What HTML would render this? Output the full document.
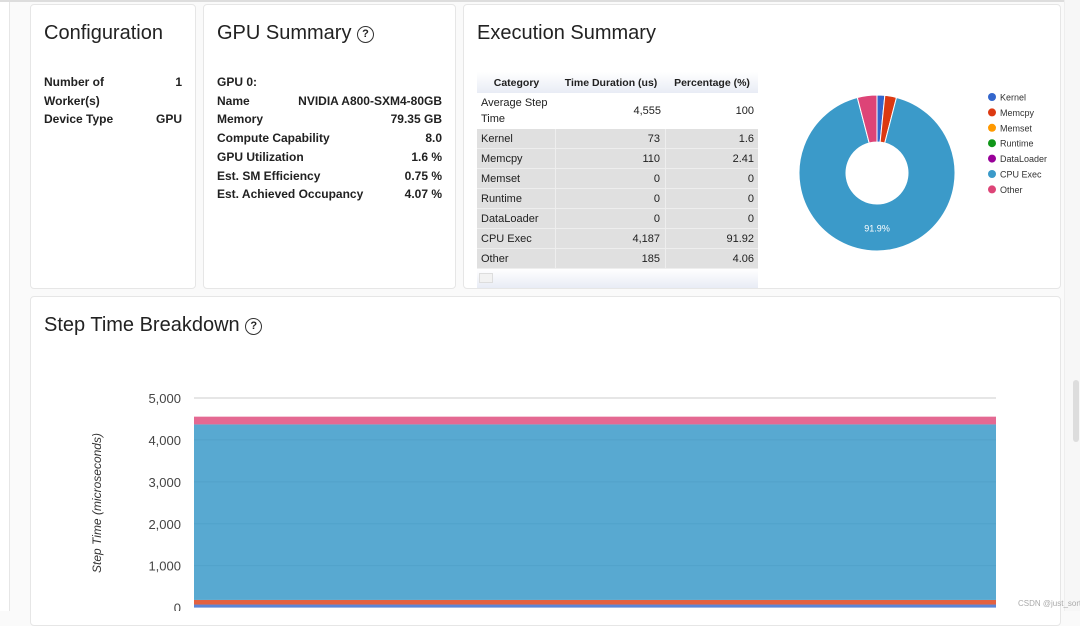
<!DOCTYPE html>
<html><head><meta charset="utf-8"><style>
*{box-sizing:border-box;margin:0;padding:0}
body{width:1080px;height:611px;overflow:hidden;background:#fafafa;font-family:"Liberation Sans",Arial,sans-serif;color:#212121;position:relative}
.card{position:absolute;background:#fff;border:1px solid #e6e6e6;border-radius:4px}
.title{position:absolute;font-size:20px;color:#222;white-space:nowrap}
.kv{position:absolute;font-size:12px;font-weight:bold;line-height:18.7px}
.kv div{display:flex;justify-content:space-between}
table{border-collapse:collapse;font-size:11px}
.help{display:inline-block;width:17px;height:17px;border:1.5px solid #333;border-radius:50%;font-size:11px;text-align:center;line-height:14px;font-weight:bold;vertical-align:2px}
</style></head><body>
<div style="position:absolute;left:0;top:0;width:10px;height:611px;background:#fff;border-right:1px solid #e6e6e6"></div>
<div style="position:absolute;left:0;top:0;width:1080px;height:2px;background:#ddd"></div>
<div style="position:absolute;left:1064px;top:0;width:16px;height:611px;background:#f7f7f7;border-left:1px solid #eee"><div style="position:absolute;left:8px;top:380px;width:6px;height:62px;background:#ddd;border-radius:3px"></div></div>

<div class="card" style="left:30px;top:4px;width:166px;height:285px">
<div class="title" style="left:13px;top:17px">Configuration</div>
<div class="kv" style="left:13px;top:68px;width:138px">
<div><span>Number of<br>Worker(s)</span><span>1</span></div>
<div><span>Device Type</span><span>GPU</span></div></div></div>

<div class="card" style="left:203px;top:4px;width:253px;height:285px">
<div class="title" style="left:13px;top:17px">GPU Summary <span class="help">?</span></div>
<div class="kv" style="left:13px;top:68px;width:225px">
<div><span>GPU 0:</span><span></span></div>
<div><span>Name</span><span>NVIDIA A800-SXM4-80GB</span></div>
<div><span>Memory</span><span>79.35 GB</span></div>
<div><span>Compute Capability</span><span>8.0</span></div>
<div><span>GPU Utilization</span><span>1.6 %</span></div>
<div><span>Est. SM Efficiency</span><span>0.75 %</span></div>
<div><span>Est. Achieved Occupancy</span><span>4.07 %</span></div></div></div>

<div class="card" style="left:463px;top:4px;width:598px;height:285px">
<div class="title" style="left:13px;top:17px">Execution Summary</div>
<table style="position:absolute;left:13px;top:67px;width:281px;table-layout:fixed">
<tr style="height:21px;background:linear-gradient(#fff,#e8ecf5);font-weight:bold;text-align:center;white-space:nowrap;font-size:10.5px"><td style="width:79px">Category</td><td style="width:110px">Time Duration (us)</td><td>Percentage (%)</td></tr>
<tr style="height:36px;background:#fff"><td style="padding-left:4px;line-height:16px">Average Step Time</td><td style="text-align:right;padding-right:5px">4,555</td><td style="text-align:right;padding-right:4px">100</td></tr>
</table>
<div id="rows" style="position:absolute;left:13px;top:124px;width:281px"></div>
<div style="position:absolute;left:13px;top:264px;width:281px;height:19px;background:linear-gradient(#fff,#e8ecf5)"><div style="margin:4px 2px;width:14px;height:10px;border:1px solid #ddd;background:#f2f2f2"></div></div>
<svg id="pie" width="598" height="285" style="position:absolute;left:0;top:0"></svg>
</div>

<div class="card" style="left:30px;top:296px;width:1031px;height:330px">
<div class="title" style="left:13px;top:17px">Step Time Breakdown <span class="help">?</span></div>
</div>
<svg id="chart" width="1080" height="611" style="position:absolute;left:0;top:0"></svg>
<div style="position:absolute;left:1018px;top:599px;font-size:8px;color:#aaa;white-space:nowrap">CSDN @just_sort</div>

<script>
const categories=["Kernel","Memcpy","Memset","Runtime","DataLoader","CPU Exec","Other"];
const durations=[73,110,0,0,0,4187,185];
const percents=["1.6","2.41","0","0","0","91.92","4.06"];
const colors=["#3366cc","#dc3912","#ff9900","#109618","#990099","#3b9ac9","#dd4477"];
const yTicks=[0,1000,2000,3000,4000,5000];
const NS="http://www.w3.org/2000/svg";
function mk(p,t,a){const e=document.createElementNS(NS,t);for(const k in a)e.setAttribute(k,a[k]);p.appendChild(e);return e;}
const rows=document.getElementById('rows');
categories.forEach((c,i)=>{const d=document.createElement('div');


d.style.cssText='display:flex;height:20px;line-height:20px;font-size:11px;background:#e0e0e0;border-bottom:1px solid #eee';
d.innerHTML=`<span style="width:79px;padding-left:4px;border-right:1px solid #eee">${c}</span><span style="width:110px;text-align:right;padding-right:5px;border-right:1px solid #eee">${durations[i].toLocaleString('en-US')}</span><span style="flex:1;text-align:right;padding-right:4px">${percents[i]}</span>`;
rows.appendChild(d);});
const pie=document.getElementById('pie');
const cx=413,cy=168,R=78,r=31;const tot=durations.reduce((a,b)=>a+b,0);
let ang=0;
durations.forEach((v,i)=>{if(!v)return;const a0=ang,a1=ang+v/tot*2*Math.PI;ang=a1;
const p=(a,rad)=>[cx+rad*Math.sin(a),cy-rad*Math.cos(a)];const lg=a1-a0>Math.PI?1:0;
const [x0,y0]=p(a0,R),[x1,y1]=p(a1,R),[x2,y2]=p(a1,r),[x3,y3]=p(a0,r);
const s=mk(pie,'path',{d:`M${x0},${y0}A${R},${R} 0 ${lg} 1 ${x1},${y1}L${x2},${y2}A${r},${r} 0 ${lg} 0 ${x3},${y3}Z`,fill:colors[i],stroke:'#fff','stroke-width':1});


if(v/tot>0.5){const m=(a0+a1)/2,[lx,ly]=p(m,(R+r)/2);const t=mk(pie,'text',{x:lx,y:ly+4,'text-anchor':'middle','font-size':9,fill:'#fff'});t.textContent=(v/tot*100).toFixed(1)+'%';

}});
categories.forEach((c,i)=>{const g=mk(pie,'g',{});


mk(g,'circle',{cx:528,cy:92+i*15.4,r:4,fill:colors[i]});const t=mk(g,'text',{x:536,y:95.5+i*15.4,'font-size':9,fill:'#333'});t.textContent=c;});
const svg=document.getElementById('chart');
const x0=194,x1=996,ymax=5000;const y=v=>607.6-v/ymax*209.6;
yTicks.forEach(t=>{if(t){const l=mk(svg,'line',{x1:x0,x2:x1,y1:y(t),y2:y(t),stroke:'#ccc'});}
const tx=mk(svg,'text',{x:181,y:y(t)+5,'text-anchor':'end','font-size':13,fill:'#444'});tx.textContent=t.toLocaleString('en-US');

});
let base=0;
durations.forEach((v,i)=>{if(!v)return;const rc=mk(svg,'rect',{x:x0,width:x1-x0,y:y(base+v),height:y(base)-y(base+v),fill:colors[i],'fill-opacity':i==5?0.85:0.8});base+=v;

});
const yt=mk(svg,'text',{x:0,y:0,transform:'translate(101,503) rotate(-90)','text-anchor':'middle','font-size':12,'font-style':'italic',fill:'#333'});yt.textContent='Step Time (microseconds)';


</script>
</body></html>
